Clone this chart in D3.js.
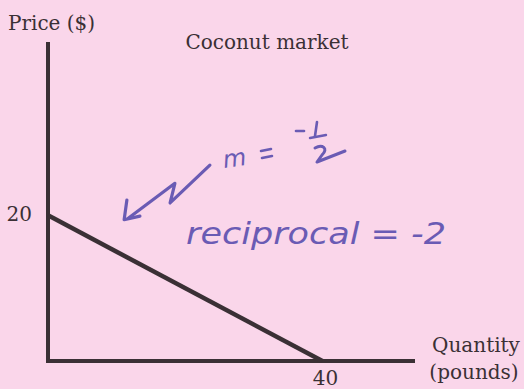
<!DOCTYPE html>
<html>
<head>
<meta charset="utf-8">
<script src="https://cdn.jsdelivr.net/npm/d3@7/dist/d3.min.js"></script>
<style>
  html, body { margin: 0; padding: 0; background: #fad6ea; }
  svg { display: block; }
  .lbl { font-family: "DejaVu Serif", "Liberation Serif", serif; fill: #3a3035; font-size: 20px; }
  .hand { font-family: "DejaVu Sans", "Noto Sans", sans-serif; font-style: italic; fill: #6a5bb4; }
</style>
</head>
<body>
<script>
// Demand curve for the coconut market: price falls from 20 to 0 as quantity rises to 40
const quantities = [0, 40];
const prices = [20, 0];
const xTickLabels = ["40"];
const yTickLabels = ["20"];
const chartTitle = "Coconut market";
const yAxisTitle = "Price ($)";
const xAxisTitle = ["Quantity", "(pounds)"];
const slopeNote = "reciprocal = -2";

const W = 524, H = 389;
const svg = d3.select("body").append("svg").attr("width", W).attr("height", H);

svg.append("rect").attr("width", W).attr("height", H).attr("fill", "#fad6ea");

// axis extents in data units (the axes run past the last tick)
const x = d3.scaleLinear().domain([0, 53.5]).range([48, 415]);
const y = d3.scaleLinear().domain([0, 43.8]).range([361, 42]);

const ink = "#3a3035";

// axes drawn as plain heavy strokes
svg.append("line")
  .attr("x1", x(0)).attr("x2", x(0))
  .attr("y1", y(0) + 2).attr("y2", y.range()[1])
  .attr("stroke", ink).attr("stroke-width", 4);
svg.append("line")
  .attr("x1", x(0) - 2).attr("x2", x.range()[1])
  .attr("y1", y(0)).attr("y2", y(0))
  .attr("stroke", ink).attr("stroke-width", 4);

// demand line
const pts = quantities.map((q, i) => [q, prices[i]]);
svg.append("path")
  .attr("d", d3.line().x(d => x(d[0])).y(d => y(d[1]))(pts))
  .attr("fill", "none").attr("stroke", ink).attr("stroke-width", 4.5)
  .attr("stroke-linecap", "butt");

// tick labels
svg.append("text").attr("class", "lbl")
  .attr("x", x(0) - 16).attr("y", y(+yTickLabels[0]) + 6)
  .attr("text-anchor", "end").text(yTickLabels[0]);
svg.append("text").attr("class", "lbl")
  .attr("x", x(+xTickLabels[0]) + 3).attr("y", y(0) + 24).attr("font-size", 19)
  .attr("text-anchor", "middle").text(xTickLabels[0]);

// titles
svg.append("text").attr("class", "lbl").attr("x", 8).attr("y", 30).text(yAxisTitle);
svg.append("text").attr("class", "lbl").attr("x", 267).attr("y", 49)
  .attr("text-anchor", "middle").text(chartTitle);
svg.append("text").attr("class", "lbl").attr("x", 476).attr("y", 352)
  .attr("text-anchor", "middle").text(xAxisTitle[0]);
svg.append("text").attr("class", "lbl").attr("x", 474).attr("y", 379)
  .attr("text-anchor", "middle").text(xAxisTitle[1]);

// handwritten annotation
const pen = "#6a5bb4";
const g = svg.append("g");
const penLine = d3.line().x(d => x(d[0])).y(d => y(d[1]));
const stroke = (sel, w) => sel.attr("fill", "none").attr("stroke", pen)
  .attr("stroke-width", w).attr("stroke-linecap", "round").attr("stroke-linejoin", "round");

// squiggly arrow pointing at the demand line
const arrowPts = [[23.6, 26.9], [17.8, 21.7], [18.5, 24.4], [11.7, 19.6]];
g.append("path").attr("d", penLine(arrowPts)).call(stroke, 3.2);
const headPts = [[11.5, 22.1], [11.1, 19.4], [13.4, 19.9]];
g.append("path").attr("d", penLine(headPts)).call(stroke, 3.2);

// m = -1/2
g.append("text").attr("class", "hand")
  .attr("x", 224).attr("y", 168).attr("font-size", 24)
  .attr("transform", "rotate(-8 224 168)").text("m");
g.append("path").attr("d", "M261,151 L271,149 M262,158 L272,156").call(stroke, 2.6);
g.append("path").attr("d", "M296,131 L304,131").call(stroke, 2.6);
g.append("path").attr("d", "M317,122 L315,136").call(stroke, 2.6);
g.append("path").attr("d", "M310,138 L326,135").call(stroke, 2.4);
g.append("path")
  .attr("d", "M315,148 C322,144 329,148 322,155 L317,162 L345,151")
  .call(stroke, 3);

// reciprocal = -2
g.append("text").attr("class", "hand")
  .attr("x", 186).attr("y", 244).attr("font-size", 30)
  .attr("textLength", 260).attr("lengthAdjust", "spacingAndGlyphs")
  .text(slopeNote);
</script>
</body>
</html>
